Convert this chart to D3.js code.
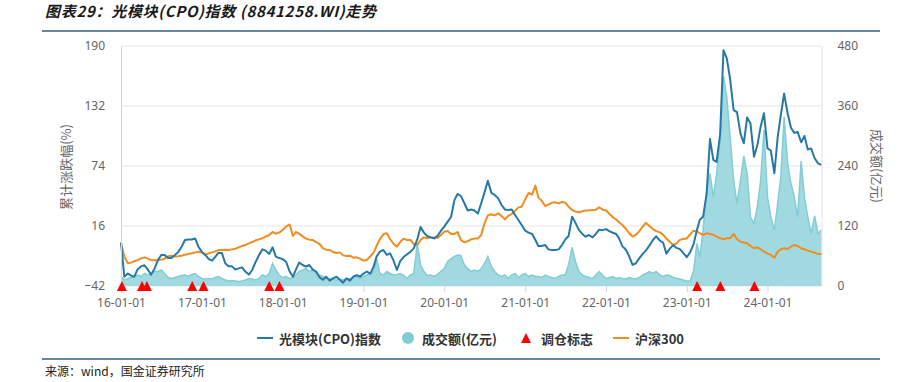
<!DOCTYPE html>
<html>
<head>
<meta charset="utf-8">
<script src="https://cdn.jsdelivr.net/npm/d3@7"></script>
<style>
  body { margin: 0; background: #fff; }
  svg { display: block; font-family: "Noto Sans CJK SC", "Noto Sans", sans-serif; }
</style>
</head>
<body>
<script>
// ////////// Daten (halbmonatlich ab 2016-01) //////////
var cpo = [
  0, -33, -30, -32, -33, -26, -23, -22, -26, -31, -25, -17, -12, -12, -15, -15, -12, -9, -4, 2.5,
  3, 3, 4, -4, -9, -12, -16, -17.5, -14, -10, -10, -20, -23, -23, -26, -25, -24, -28, -31, -26.5,
  -18.5, -12, -6.6, -7.8, -11, -4.6, -13.6, -15, -16, -18.5, -28, -33, -26.5, -19.4, -21.7, -23.3, -21.7, -26, -28, -33.6,
  -36, -33, -36.8, -34.6, -33, -36, -38.8, -34.6, -36.8, -33, -31.4, -33, -30, -28, -30, -23, -13.6, -8.8, -7.2, -12,
  -10.4, -17, -26.5, -18, -14, -11.5, -9, -5.6, 3, 15, 9.6, 6.3, 5, 4, 6.3, 11, 15.4, 20, 25, 41,
  47, 45, 38, 31, 32, 31, 28, 38, 48.5, 59.8, 48, 46, 42.7, 36.3, 32, 31.5, 32, 26.6, 21.8, 17,
  11.5, 9.6, 8.3, 2.5, -3.3, -3.3, -2.4, -6.6, -7.2, -7.2, -6.6, -2.4, 3, 6.3, 25, 19, 12, 8.3, 5.7, 7.3,
  5, 8.3, 12.5, 12, 13, 11, 9.5, 8.3, 4, -3.5, -7, -13.5, -21.5, -20, -15, -11, -7.5, -3, 2.5, 6,
  2, 0, -10.7, -6, -2.5, -5.2, -6.4, -10, -14.2, -9.5, -1.5, 12, 22, 25, 47.6, 100, 80, 78, 105, 186,
  178, 158, 128, 126, 105, 96, 121, 115, 83, 94, 112, 125, 91, 89, 67, 102, 123, 144, 125, 111,
  106, 107, 97, 103, 90, 91, 81.5, 76.6, 75
];
var hs300 = [
  0, -13.6, -20, -19.4, -18, -17, -15.3, -14.3, -15.6, -17, -17, -17.2, -16.5, -15.6, -13.3, -12.7, -13.6, -13.3, -12.7, -11.7,
  -11.1, -10.4, -9.5, -8.8, -9.8, -11.7, -10.4, -9.5, -8.5, -7.5, -7.2, -6.9, -7.2, -6.6, -5.9, -4.6, -3.3, -2.4, -0.8, 0.5,
  2.2, 3.1, 4.1, 5.7, 7.3, 10.2, 8.6, 9.6, 12.1, 15.4, 17.5, 6.3, 10.2, 8.6, 6, 3.8, 2.8, 2.5, 0.5, -1.4,
  -5.3, -6.9, -7.2, -9.1, -10.1, -9.5, -12.4, -13, -12.7, -14.6, -14.3, -15.6, -17.5, -16.9, -13.3, -9.8, -3.3, 3.1, 8.3, 8.9,
  3.4, -1.1, -4, 0.5, 3.8, 2.5, 2.5, -1.4, -2.4, 2.5, 5, 4.1, 5, 5, 4.4, 7, 10.5, 11.2, 8.3, 8.3,
  10.2, 2.5, 0.2, 1.2, 3.1, 3.8, 3.8, 7.3, 18.6, 26.3, 27.3, 26.3, 28.2, 25.7, 22.4, 25.7, 27.6, 30.8, 34, 34.7,
  41.8, 47.9, 46.3, 55, 43.7, 40.5, 35.3, 36.6, 38.6, 38.9, 37.9, 39.2, 38.6, 34.7, 31.5, 29.9, 29.2, 30.2, 31.1, 31.1,
  31.5, 31.8, 34, 32, 31, 27.8, 24.4, 22.3, 19.7, 17, 13.3, 9, 5.8, 7.5, 11, 15.5, 19, 16, 13, 11,
  9.8, 7.6, 3.8, 0.7, -2.6, -0.8, 2.6, 3.5, 4, 7.8, 11.5, 10.7, 9, 7.4, 9, 8.3, 7.4, 5.7, 4.1, 3.2,
  4.1, 4.1, 8.3, 3.2, 0.9, 0, -0.7, -3.3, -5.5, -4.6, -6.5, -8.8, -10.4, -12, -14.6, -8.8, -6.5, -5.5, -6.2, -3.9,
  -2.3, -3.3, -5.5, -6.5, -7.8, -8.8, -9.7, -11, -11
];
var volume = [
  19, 12, 15, 17, 19, 22, 19, 25, 22, 25, 29, 29, 32, 25, 17, 15, 17, 19, 21, 22,
  19, 23, 25, 19, 15, 14, 15, 14, 17, 19, 15, 12, 10, 11, 10, 9, 10, 12, 15, 14,
  12, 15, 22, 19, 25, 45, 32, 22, 17, 19, 15, 17, 22, 29, 32, 35, 29, 32, 25, 22,
  19, 15, 14, 15, 12, 14, 12, 14, 15, 17, 19, 15, 19, 22, 25, 29, 55, 25, 22, 29,
  25, 22, 23, 25, 22, 15, 22, 25, 85, 42, 29, 21, 22, 19, 23, 29, 35, 49, 55, 59,
  62, 61, 42, 35, 29, 32, 29, 35, 45, 59, 39, 29, 22, 19, 22, 15, 22, 25, 17, 22,
  25, 19, 22, 19, 19, 17, 22, 19, 17, 15, 19, 22, 22, 43, 77, 49, 29, 22, 19, 17,
  15, 22, 29, 22, 15, 17, 19, 15, 17, 15, 14, 17, 15, 14, 17, 22, 25, 29, 25, 29,
  22, 19, 22, 21, 17, 15, 14, 12, 10, 10, 30, 85, 58, 112, 192, 225, 178, 225, 292, 420,
  378, 298, 212, 165, 212, 260, 225, 138, 125, 158, 212, 312, 178, 138, 112, 165, 218, 338, 245, 205,
  178, 138, 250, 178, 138, 105, 140, 105, 112
];
var rebalance = ["2016-01-05", "2016-04-05", "2016-04-27", "2016-11-18", "2017-01-08",
  "2017-11-01", "2017-12-17", "2023-02-17", "2023-06-02", "2023-11-03"];
var leftTicks = [-42, 16, 74, 132, 190];
var rightTicks = [0, 120, 240, 360, 480];
var yearTicks = ["2016-01-01", "2017-01-01", "2018-01-01", "2019-01-01", "2020-01-01",
  "2021-01-01", "2022-01-01", "2023-01-01", "2024-01-01"];

var parse = d3.timeParse("%Y-%m-%d");
// Stichtage: 1. und 16. jedes Monats
var dates = cpo.map(function(d, i) { return new Date(2016, Math.floor(i / 2), i % 2 ? 16 : 1); });

// ////////// svg //////////
var W = 899, H = 382;
var plot = {left: 121, right: 821.5, top: 46, bottom: 286};

var svg = d3.select("body").append("svg")
  .attr("width", W).attr("height", H);
svg.append("rect").attr("width", W).attr("height", H).attr("fill", "#fff");

// ////////// Scales //////////
var x = d3.scaleTime()
  .domain([new Date(2016, 0, 1), new Date(2024, 8, 1)])
  .range([plot.left, plot.right]);
var yL = d3.scaleLinear().domain([-42, 190]).range([plot.bottom, plot.top]);
var yR = d3.scaleLinear().domain([0, 480]).range([plot.bottom, plot.top]);

// ////////// Titel & Rahmen //////////
svg.append("text")
  .attr("x", 45).attr("y", 17)
  .style("font-size", "15px").style("font-weight", "bold").style("font-style", "italic")
  .style("letter-spacing", "0.7px")
  .attr("fill", "#1a1a1a")
  .text("图表29：光模块(CPO)指数 (8841258.WI)走势");

[31, 359].forEach(function(yy) {
  svg.append("line")
    .attr("x1", 42).attr("x2", 880).attr("y1", yy).attr("y2", yy)
    .attr("stroke", "#33607f").attr("stroke-width", 1.3);
});

svg.append("text")
  .attr("x", 45).attr("y", 376)
  .style("font-size", "12px").attr("fill", "#222")
  .text("来源：wind，国金证券研究所");

// ////////// Gitter //////////
svg.append("g").selectAll("line")
  .data(leftTicks)
  .enter().append("line")
  .attr("x1", plot.left).attr("x2", plot.right)
  .attr("y1", function(d) { return yL(d); })
  .attr("y2", function(d) { return yL(d); })
  .attr("stroke", "#e6e6e6");

// ////////// Volumen-Fläche //////////
var pts = dates.map(function(d, i) { return {date: d, cpo: cpo[i], hs: hs300[i], vol: volume[i]}; });

svg.append("path")
  .datum(pts)
  .attr("d", d3.area()
    .x(function(d) { return x(d.date); })
    .y0(yR(0))
    .y1(function(d) { return yR(d.vol); }))
  .attr("fill", "#a0d9e0");

svg.append("path")
  .datum(pts)
  .attr("d", d3.line()
    .x(function(d) { return x(d.date); })
    .y(function(d) { return yR(d.vol); }))
  .attr("fill", "none")
  .attr("stroke", "#84cdd6")
  .attr("stroke-width", 1.5);

// ////////// Linien //////////
svg.append("path")
  .datum(pts)
  .attr("d", d3.line()
    .x(function(d) { return x(d.date); })
    .y(function(d) { return yL(d.hs); }))
  .attr("fill", "none")
  .attr("stroke", "#f28c1e")
  .attr("stroke-width", 2)
  .attr("stroke-linejoin", "round");

svg.append("path")
  .datum(pts)
  .attr("d", d3.line()
    .x(function(d) { return x(d.date); })
    .y(function(d) { return yL(d.cpo); }))
  .attr("fill", "none")
  .attr("stroke", "#2679a6")
  .attr("stroke-width", 2)
  .attr("stroke-linejoin", "round");

// ////////// Achsen //////////
var xAxis = svg.append("g")
  .attr("transform", "translate(0," + plot.bottom + ")")
  .call(d3.axisBottom(x)
    .tickValues(yearTicks.map(parse))
    .tickFormat(d3.timeFormat("%y-%m-%d"))
    .tickSize(6).tickPadding(6).tickSizeOuter(0));
xAxis.select(".domain").remove();
xAxis.selectAll(".tick line").attr("stroke", "#ccd6eb");
xAxis.selectAll(".tick text")
  .attr("fill", "#666").style("font-size", "12px")
  .style("font-family", "'Noto Sans', sans-serif");

var lAxis = svg.append("g")
  .attr("transform", "translate(" + plot.left + ",0)")
  .call(d3.axisLeft(yL).tickValues(leftTicks).tickSize(0).tickPadding(16));
lAxis.select(".domain").attr("stroke", "#ccd6eb");
lAxis.selectAll(".tick text")
  .attr("fill", "#666").style("font-size", "12px")
  .style("font-family", "'Noto Sans', sans-serif");

var rAxis = svg.append("g")
  .attr("transform", "translate(" + plot.right + ",0)")
  .call(d3.axisRight(yR).tickValues(rightTicks).tickSize(0).tickPadding(16));
rAxis.select(".domain").attr("stroke", "#e3e3e3");
rAxis.selectAll(".tick text")
  .attr("fill", "#666").style("font-size", "12px")
  .style("font-family", "'Noto Sans', sans-serif");

svg.append("text")
  .attr("transform", "translate(65,167) rotate(-90)")
  .attr("text-anchor", "middle").attr("dominant-baseline", "central")
  .style("font-size", "13px").attr("fill", "#666")
  .text("累计涨跌幅(%)");

svg.append("text")
  .attr("transform", "translate(877,166) rotate(90)")
  .attr("text-anchor", "middle").attr("dominant-baseline", "central")
  .style("font-size", "13px").attr("fill", "#666")
  .text("成交额(亿元)");

// ////////// Dreiecke (Umschichtung) //////////
function triangle(cx, cy, w, h) {
  return "M" + cx + "," + (cy - h / 2) + "L" + (cx + w / 2) + "," + (cy + h / 2) +
    "L" + (cx - w / 2) + "," + (cy + h / 2) + "Z";
}
svg.append("g").selectAll("path")
  .data(rebalance)
  .enter().append("path")
  .attr("d", function(d) { return triangle(x(parse(d)), plot.bottom, 10, 10); })
  .attr("fill", "#ff0000");

// ////////// Legende //////////
var legend = [
  {label: "光模块(CPO)指数", type: "line", color: "#2679a6", x: 257},
  {label: "成交额(亿元)", type: "circle", color: "#80cbd5", x: 402},
  {label: "调仓标志", type: "tri", color: "#ff0000", x: 521},
  {label: "沪深300", type: "line", color: "#f28c1e", x: 613}
];
var ly = 338;
var lg = svg.append("g").selectAll("g")
  .data(legend)
  .enter().append("g")
  .attr("transform", function(d) { return "translate(" + d.x + "," + ly + ")"; });
lg.each(function(d) {
  var g = d3.select(this);
  if (d.type === "line") {
    g.append("line").attr("x1", 0).attr("x2", 16).attr("y1", 0).attr("y2", 0)
      .attr("stroke", d.color).attr("stroke-width", 2);
  } else if (d.type === "circle") {
    g.append("circle").attr("cx", 6).attr("cy", 0).attr("r", 6).attr("fill", d.color);
  } else {
    g.append("path").attr("d", triangle(5, 0, 10, 10)).attr("fill", d.color);
  }
});
lg.append("text")
  .attr("x", function(d) { return d.type === "line" ? 22 : 20; })
  .attr("y", 0)
  .attr("dominant-baseline", "central")
  .style("font-size", "13px").style("font-weight", "bold")
  .attr("fill", "#333")
  .text(function(d) { return d.label; });
</script>
</body>
</html>
